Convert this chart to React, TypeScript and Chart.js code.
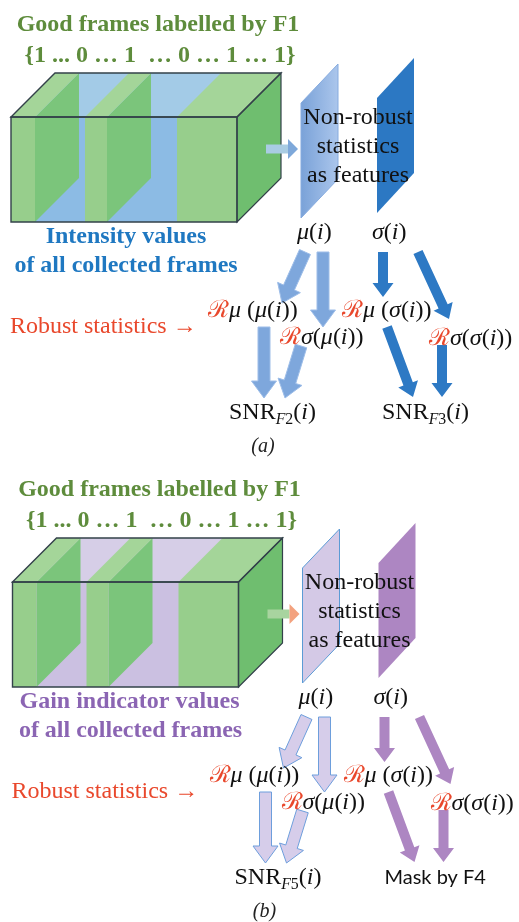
import React, { useEffect, useRef } from "react";
import { Chart, registerables } from "chart.js";

Chart.register(...registerables);

const W = 519;
const H = 922;

// ---------- content ----------
const PANEL_LABELS = ["(a)", "(b)"];
const TITLE_LINES = ["Good frames labelled by F1", "{1 ... 0 … 1  … 0 … 1 … 1}"];
const VALUE_LINES_A = ["Intensity values", "of all collected frames"];
const VALUE_LINES_B = ["Gain indicator values", "of all collected frames"];
const PLANE_TEXT = ["Non-robust", "statistics", "as features"];
const ROBUST_LABEL = "Robust statistics →";
const MASK_LABEL = "Mask by F4";

// rich text segments: [text, style]  n=upright, i=italic, R=red script, s=italic sub, sn=upright sub
type Seg = [string, string];
const MU_I: Seg[] = [["μ", "i"], ["(", "n"], ["i", "i"], [")", "n"]];
const SIGMA_I: Seg[] = [["σ", "i"], ["(", "n"], ["i", "i"], [")", "n"]];
const R_MU_MU: Seg[] = [["ℛ", "R"], ["μ", "i"], [" (", "n"], ["μ", "i"], ["(", "n"], ["i", "i"], ["))", "n"]];
const R_MU_SIGMA: Seg[] = [["ℛ", "R"], ["μ", "i"], [" (", "n"], ["σ", "i"], ["(", "n"], ["i", "i"], ["))", "n"]];
const R_SIGMA_MU: Seg[] = [["ℛ", "R"], ["σ", "i"], ["(", "n"], ["μ", "i"], ["(", "n"], ["i", "i"], ["))", "n"]];
const R_SIGMA_SIGMA: Seg[] = [["ℛ", "R"], ["σ", "i"], ["(", "n"], ["σ", "i"], ["(", "n"], ["i", "i"], ["))", "n"]];
const SNR_F2: Seg[] = [["SNR", "n"], ["F", "s"], ["2", "sn"], ["(", "n"], ["i", "i"], [")", "n"]];
const SNR_F3: Seg[] = [["SNR", "n"], ["F", "s"], ["3", "sn"], ["(", "n"], ["i", "i"], [")", "n"]];
const SNR_F5: Seg[] = [["SNR", "n"], ["F", "s"], ["5", "sn"], ["(", "n"], ["i", "i"], [")", "n"]];

// ---------- geometry (diagram units, panel (a) frame; y grows downward) ----------
const PANEL_SHIFT_X = [0, 1.5];
const PANEL_SHIFT_Y = [0, 465];
const BOX_FRONT = [11, 117, 237, 222]; // x0, y0, x1, y1
const BOX_DEPTH = [44, -44];
const GOOD_FRAME_SLABS = [[11, 35], [85, 107], [177, 237]];
const FEATURE_PLANES = [
  [[301, 103], [338, 64], [338, 179], [301, 218]],
  [[377, 98], [414, 58], [414, 173], [377, 213]],
];
const FEED_ARROW = [266, 149, 298, 149];
const LEFT_ARROWS = [
  [305, 252, 282, 303],
  [323, 252, 323, 327],
  [264, 327, 264, 398],
  [301, 346, 285, 398],
];
const RIGHT_ARROWS = [
  [383, 252, 383, 297],
  [418, 252, 449, 319],
  [387, 327, 413, 397],
  [442, 345, 442, 397],
];
const MATH_LABELS: { x: number; y: number; segs: Seg[] }[] = [
  { x: 297, y: 233, segs: MU_I },
  { x: 372, y: 233, segs: SIGMA_I },
  { x: 208, y: 311, segs: R_MU_MU },
  { x: 342, y: 311, segs: R_MU_SIGMA },
  { x: 280, y: 338, segs: R_SIGMA_MU },
  { x: 429, y: 339, segs: R_SIGMA_SIGMA },
];
const OUTPUT_LABELS_A: { x: number; y: number; segs: Seg[] }[] = [
  { x: 229, y: 413, segs: SNR_F2 },
  { x: 382, y: 413, segs: SNR_F3 },
];
const OUTPUT_LABELS_B: { x: number; y: number; segs: Seg[] }[] = [
  { x: 233, y: 413, segs: SNR_F5 },
];

const PANEL_STYLES = [
  {
    boxTop: "#a3cbe7", boxFront: "#8cbbe4", value: "#1f78c1",
    plane1: ["#7aa2d8", "#abc6ec"], plane1Stroke: "#86abdf", plane2: "#2c78c3",
    feedHead: "#7ea8da", feedShaft: "#a9cce3",
    leftFill: "#7ea7dc", leftStroke: "#9dbde8", right: "#2d79c4",
  },
  {
    boxTop: "#d6cee7", boxFront: "#cbc0e1", value: "#8b65b3",
    plane1: ["#d4c9e6", "#d4c9e6"], plane1Stroke: "#5b9bd5", plane2: "#ad86c2",
    feedHead: "#f3a27f", feedShaft: "#a8d49f",
    leftFill: "#d6cdea", leftStroke: "#6d9edc", right: "#ad86c2",
  },
];

const GREEN = "#5e8c3c";
const RED = "#e9482c";
const SERIF = "'Liberation Serif', 'Times New Roman', serif";
const MATH = "'Liberation Serif', 'DejaVu Serif', serif";
const MATH_SIZE = 24;

const diagramPlugin = {
  id: "diagram",
  afterDatasetsDraw(chart: any) {
    const ctx: CanvasRenderingContext2D = chart.ctx;
    const xs = chart.scales.x;
    const ys = chart.scales.y;

    for (let p = 0; p < 2; p++) {
      const dx = PANEL_SHIFT_X[p];
      const dy = PANEL_SHIFT_Y[p];
      const st = PANEL_STYLES[p];
      const X = (v: number) => xs.getPixelForValue(v + dx);
      const Y = (v: number) => ys.getPixelForValue(v + dy);

      const poly = (pts: number[][], fill?: string | CanvasGradient, stroke?: string, lw = 1) => {
        ctx.beginPath();
        pts.forEach(([a, b], i) => (i ? ctx.lineTo(X(a), Y(b)) : ctx.moveTo(X(a), Y(b))));
        ctx.closePath();
        if (fill) { ctx.fillStyle = fill; ctx.fill(); }
        if (stroke) { ctx.strokeStyle = stroke; ctx.lineWidth = lw; ctx.stroke(); }
      };

      const blockArrow = (a: number[], shaft: number, head: number, hl: number, fill: string, stroke?: string, shaftFill?: string) => {
        const [x1, y1, x2, y2] = a;
        const L = Math.hypot(x2 - x1, y2 - y1);
        const ux = (x2 - x1) / L, uy = (y2 - y1) / L;
        const nx = -uy, ny = ux;
        const bx = x2 - ux * hl, by = y2 - uy * hl;
        const s = shaft / 2, h = head / 2;
        if (shaftFill) {
          poly([[x1 + nx * s, y1 + ny * s], [bx + nx * s, by + ny * s], [bx - nx * s, by - ny * s], [x1 - nx * s, y1 - ny * s]], shaftFill);
          poly([[bx + nx * h, by + ny * h], [x2, y2], [bx - nx * h, by - ny * h]], fill);
          return;
        }
        poly([
          [x1 + nx * s, y1 + ny * s], [bx + nx * s, by + ny * s], [bx + nx * h, by + ny * h],
          [x2, y2], [bx - nx * h, by - ny * h], [bx - nx * s, by - ny * s], [x1 - nx * s, y1 - ny * s],
        ], fill, stroke, 1);
      };

      const text = (t: string, x: number, y: number, font: string, color: string, align: CanvasTextAlign = "center") => {
        ctx.font = font;
        ctx.fillStyle = color;
        ctx.textAlign = align;
        ctx.textBaseline = "middle";
        ctx.fillText(t, X(x), Y(y));
      };

      const rich = (segs: Seg[], x: number, y: number, size: number) => {
        let cx = X(x);
        const cy = Y(y);
        ctx.textAlign = "left";
        ctx.textBaseline = "middle";
        for (const [t, s] of segs) {
          let font = `${size}px ${MATH}`;
          let color = "#111";
          let yy = cy;
          if (s === "i") font = `italic ${size}px ${MATH}`;
          if (s === "R") { font = `${size}px 'DejaVu Serif', ${MATH}`; color = RED; }
          if (s === "s") { font = `italic ${size * 0.66}px ${MATH}`; yy = cy + size * 0.28; }
          if (s === "sn") { font = `${size * 0.66}px ${MATH}`; yy = cy + size * 0.28; }
          ctx.font = font;
          ctx.fillStyle = color;
          ctx.fillText(t, cx, yy);
          cx += ctx.measureText(t).width;
        }
      };

      // ---- titles ----
      text(TITLE_LINES[0], 158, 25, `bold 24px ${SERIF}`, GREEN);
      text(TITLE_LINES[1], 160, 56, `bold 24px ${SERIF}`, GREEN);

      // ---- frame box ----
      const [fx0, fy0, fx1, fy1] = BOX_FRONT;
      const [ddx, ddy] = BOX_DEPTH;
      poly([[fx0, fy0], [fx1, fy0], [fx1 + ddx, fy0 + ddy], [fx0 + ddx, fy0 + ddy]], st.boxTop);
      poly([[fx0, fy0], [fx1, fy0], [fx1, fy1], [fx0, fy1]], st.boxFront);
      GOOD_FRAME_SLABS.forEach(([a, b], i) => {
        poly([[b, fy0], [b + ddx, fy0 + ddy], [b + ddx, fy1 + ddy], [b, fy1]], i === 2 ? "#6fbe6f" : "#7bc57b");
        poly([[a, fy0], [b, fy0], [b + ddx, fy0 + ddy], [a + ddx, fy0 + ddy]], "#a4d599");
        poly([[a, fy0], [b, fy0], [b, fy1], [a, fy1]], "#97ce8c");
      });
      const edge = "#33414a";
      ctx.lineJoin = "miter";
      poly([[fx0, fy0], [fx1, fy0], [fx1, fy1], [fx0, fy1]], undefined, edge, 1.4);
      poly([[fx0, fy0], [fx0 + ddx, fy0 + ddy], [fx1 + ddx, fy0 + ddy], [fx1, fy0]], undefined, edge, 1.4);
      poly([[fx1, fy0], [fx1 + ddx, fy0 + ddy], [fx1 + ddx, fy1 + ddy], [fx1, fy1]], undefined, edge, 1.2);

      // ---- value description ----
      const vl = p === 0 ? VALUE_LINES_A : VALUE_LINES_B;
      text(vl[0], p === 0 ? 126 : 128, 237, `bold 24px ${SERIF}`, st.value);
      text(vl[1], p === 0 ? 126 : 129, 266, `bold 24px ${SERIF}`, st.value);

      // ---- feed arrow ----
      blockArrow(FEED_ARROW, 9, 20, 10, st.feedHead, undefined, st.feedShaft);

      // ---- feature planes ----
      const p1 = FEATURE_PLANES[0];
      const g = ctx.createLinearGradient(X(p1[0][0]), 0, X(p1[1][0]), 0);
      g.addColorStop(0, st.plane1[0]);
      g.addColorStop(1, st.plane1[1]);
      poly(p1, g, st.plane1Stroke, 1);
      poly(FEATURE_PLANES[1], st.plane2);

      PLANE_TEXT.forEach((t, i) => text(t, 358, 118 + i * 29, `24px ${SERIF}`, "#111"));

      // ---- arrows ----
      LEFT_ARROWS.forEach((a) => blockArrow(a, 12, 25, 17, st.leftFill, st.leftStroke));
      RIGHT_ARROWS.forEach((a) => blockArrow(a, 10, 21, 14, st.right));

      // ---- labels ----
      text(ROBUST_LABEL, 10, 327, `24px ${SERIF}`, RED, "left");
      MATH_LABELS.forEach((m) => rich(m.segs, m.x, m.y, MATH_SIZE));
      (p === 0 ? OUTPUT_LABELS_A : OUTPUT_LABELS_B).forEach((m) => rich(m.segs, m.x, m.y, MATH_SIZE));
      if (p === 1) text(MASK_LABEL, 383, 413, `20px Lato, 'Noto Sans', sans-serif`, "#111", "left");

      text(PANEL_LABELS[p], 263, 447, `italic 20px ${MATH}`, "#222");
    }
  },
};

export default function App() {
  const ref = useRef<HTMLCanvasElement>(null);
  useEffect(() => {
    if (!ref.current) return;
    const chart = new Chart(ref.current, {
      type: "scatter",
      data: { datasets: [{ data: [{ x: 0, y: 0 }, { x: W, y: H }], pointRadius: 0, showLine: false }] },
      options: {
        animation: false,
        responsive: true,
        maintainAspectRatio: false,
        events: [],
        layout: { padding: 0 },
        plugins: { legend: { display: false }, tooltip: { enabled: false } },
        scales: {
          x: { type: "linear", min: 0, max: W, display: false },
          y: { type: "linear", min: 0, max: H, reverse: true, display: false },
        },
      },
      plugins: [diagramPlugin],
    });
    return () => chart.destroy();
  }, []);
  return (
    <div style={{ position: "absolute", left: 0, top: 0, width: W, height: H, background: "#fff" }}>
      <canvas ref={ref} />
    </div>
  );
}
